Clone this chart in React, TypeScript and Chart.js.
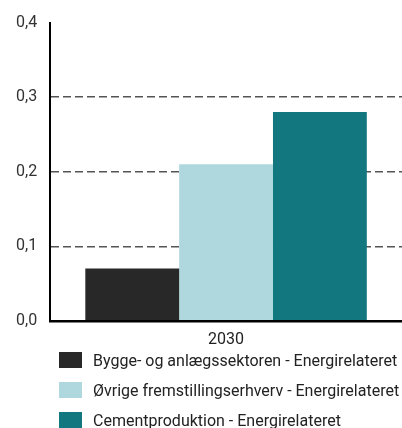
import React, { useEffect, useRef } from "react";
import { Chart, registerables } from "chart.js";

Chart.register(...registerables);

const categories = ["2030"];
const seriesNames = [
  "Bygge- og anlægssektoren - Energirelateret",
  "Øvrige fremstillingserhverv - Energirelateret",
  "Cementproduktion - Energirelateret",
];
const byggeValues = [0.07];
const oevrigeValues = [0.21];
const cementValues = [0.28];
const seriesColors = ["#282828", "#aed8de", "#12777f"];
const yTicks = [0, 0.1, 0.2, 0.3, 0.4];

const FONT = "Roboto, 'Noto Sans', sans-serif";

export default function App() {
  const canvasRef = useRef<HTMLCanvasElement | null>(null);

  useEffect(() => {
    const canvas = canvasRef.current;
    if (!canvas) return;
    const chart = new Chart(canvas, {
      type: "bar",
      data: {
        labels: categories,
        datasets: [
          { label: seriesNames[0], data: byggeValues, backgroundColor: seriesColors[0] },
          { label: seriesNames[1], data: oevrigeValues, backgroundColor: seriesColors[1] },
          { label: seriesNames[2], data: cementValues, backgroundColor: seriesColors[2] },
        ],
      },
      options: {
        responsive: false,
        animation: false,
        layout: { padding: { top: 11, right: 0, left: 3, bottom: 0 } },
        datasets: { bar: { categoryPercentage: 0.8, barPercentage: 1 } },
        plugins: {
          legend: { display: false },
          tooltip: { enabled: false },
        },
        scales: {
          x: {
            grid: { display: false, drawTicks: false },
            border: { display: true, color: "#000", width: 2.5 },
            ticks: {
              color: "#222",
              padding: 10,
              font: { family: FONT, size: 16 },
            },
          },
          y: {
            min: 0,
            max: 0.4,
            afterBuildTicks: (scale: any) => {
              scale.ticks = yTicks.map((v) => ({ value: v }));
            },
            grid: {
              drawTicks: false,
              lineWidth: 1.4,
              color: (ctx: any) =>
                ctx.tick && (ctx.tick.value === 0 || ctx.tick.value === 0.4)
                  ? "rgba(0,0,0,0)"
                  : "#555",
            },
            border: { display: true, color: "#000", width: 2, dash: [8, 4] as any },
            ticks: {
              color: "#333",
              padding: 13,
              font: { family: FONT, size: 16 },
              callback: (v: any) => Number(v).toFixed(1).replace(".", ","),
            },
          },
        },
      },
      plugins: [],
    });
    return () => chart.destroy();
  }, []);

  return (
    <div style={{ position: "absolute", left: 0, top: 0, width: 402, height: 428, background: "#fff", overflow: "hidden" }}>
      <canvas ref={canvasRef} width={402} height={360} style={{ display: "block" }} />
      {seriesNames.map((name, i) => (
        <div
          key={name}
          style={{
            position: "absolute",
            left: 59,
            top: 352 + i * 30,
            height: 16,
            display: "flex",
            alignItems: "center",
            whiteSpace: "nowrap",
            fontFamily: FONT,
            fontSize: 16,
            color: "#222",
          }}
        >
          <span style={{ display: "inline-block", width: 23, height: 16, background: seriesColors[i], marginRight: 11 }} />
          <span>{name}</span>
        </div>
      ))}
    </div>
  );
}
